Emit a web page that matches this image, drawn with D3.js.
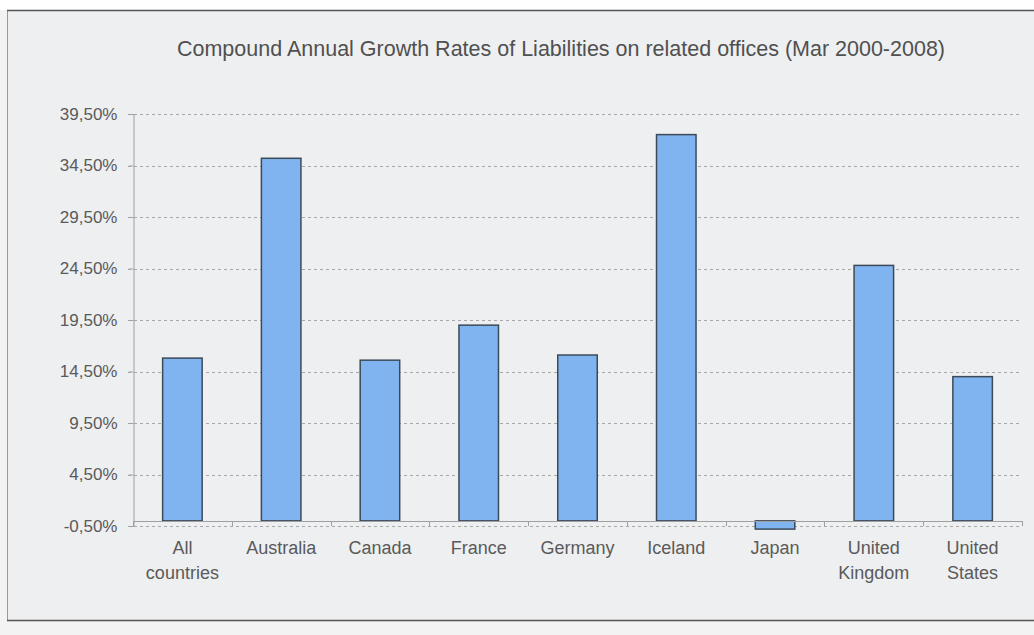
<!DOCTYPE html>
<html>
<head>
<meta charset="utf-8">
<script src="https://cdn.jsdelivr.net/npm/d3@7.9.0/dist/d3.min.js"></script>
<style>
  body { margin: 0; background: #fbfbfb; }
  svg { display: block; font-family: "Liberation Sans", Arial, sans-serif; }
</style>
</head>
<body>
<svg width="1034" height="635"></svg>
<script>
// data
const countries = ['All countries', 'Australia', 'Canada', 'France', 'Germany', 'Iceland', 'Japan', 'United Kingdom', 'United States'];
const growth = [15.8, 35.2, 15.6, 19.0, 16.1, 37.5, -0.8, 24.8, 14.0];
const yTicks = [-0.5, 4.5, 9.5, 14.5, 19.5, 24.5, 29.5, 34.5, 39.5];

const svg = d3.select('svg');

// frame
svg.append('rect')
    .attr('x', 0).attr('y', 0).attr('width', 1034).attr('height', 635)
    .attr('fill', '#f3f3f3');
svg.append('rect')
    .attr('x', 0).attr('y', 0).attr('width', 1034).attr('height', 10)
    .attr('fill', '#ffffff');
svg.append('rect')
    .attr('x', 7.5).attr('y', 10.5).attr('width', 1040).attr('height', 610)
    .attr('fill', '#eeeff1')
    .attr('stroke', '#9a9a9a');
svg.append('line')
    .attr('x1', 7).attr('x2', 1034).attr('y1', 10.5).attr('y2', 10.5)
    .attr('stroke', '#555').attr('stroke-width', 1.5);
svg.append('line')
    .attr('x1', 7).attr('x2', 1034).attr('y1', 620.5).attr('y2', 620.5)
    .attr('stroke', '#555').attr('stroke-width', 1.5);

const plotLeft = 133, plotRight = 1022, plotTop = 114, plotBottom = 526;

const x = d3.scaleBand().domain(countries).range([plotLeft, plotRight]).paddingInner(0.6).paddingOuter(0.3);
const y = d3.scaleLinear().domain([-0.5, 39.5]).range([plotBottom, plotTop]);

// title
svg.append('text')
    .attr('x', 561).attr('y', 56)
    .attr('text-anchor', 'middle')
    .attr('font-size', 21.5)
    .attr('fill', '#505050')
    .text('Compound Annual Growth Rates of Liabilities on related offices (Mar 2000-2008)');

// gridlines
svg.append('g').selectAll('line').data(yTicks).join('line')
    .attr('x1', plotLeft - 5).attr('x2', plotRight)
    .attr('y1', d => Math.round(y(d)) + 0.5).attr('y2', d => Math.round(y(d)) + 0.5)
    .attr('stroke', '#a8a8a8')
    .attr('stroke-dasharray', '3,3');

// y axis, comma decimals and a plain hyphen for negatives
const yAxis = d3.axisLeft(y).tickValues(yTicks).tickSize(5)
    .tickFormat(d => d.toFixed(2).replace('.', ',') + '%');
svg.append('g')
    .attr('transform', `translate(${plotLeft + 0.5},0)`)
    .call(yAxis)
    .call(g => g.select('.domain').attr('stroke', '#a0a0a0'))
    .call(g => g.selectAll('.tick line').attr('stroke', '#a0a0a0'))
    .call(g => g.selectAll('.tick text')
        .attr('font-size', 17).attr('fill', '#5a5a5a').attr('x', -16)
        .attr('font-family', '"Liberation Sans", Arial, sans-serif'));

// bars
svg.append('g').selectAll('rect').data(growth).join('rect')
    .attr('x', (d, i) => x(countries[i]))
    .attr('width', x.bandwidth())
    .attr('y', d => y(Math.max(0, d)))
    .attr('height', d => Math.abs(y(d) - y(0)))
    .attr('fill', '#80b4f0')
    .attr('stroke', '#3c4a58')
    .attr('stroke-width', 1.5);

// category axis at zero
const bounds = d3.range(countries.length + 1).map(i => plotLeft + i * (plotRight - plotLeft) / countries.length);
svg.append('line')
    .attr('x1', plotLeft).attr('x2', plotRight)
    .attr('y1', Math.round(y(0)) + 0.5).attr('y2', Math.round(y(0)) + 0.5)
    .attr('stroke', '#a0a0a0');
svg.append('g').selectAll('line').data(bounds).join('line')
    .attr('x1', d => Math.round(d) + 0.5).attr('x2', d => Math.round(d) + 0.5)
    .attr('y1', Math.round(y(0))).attr('y2', Math.round(y(0)) + 5)
    .attr('stroke', '#a0a0a0');

// category labels
const labels = svg.append('g').selectAll('text').data(countries).join('text')
    .attr('text-anchor', 'middle')
    .attr('font-size', 18)
    .attr('fill', '#5a5a5a')
    .attr('transform', d => `translate(${x(d) + x.bandwidth() / 2},554)`);
labels.each(function (d) {
    const words = d.split(' ');
    const t = d3.select(this);
    words.forEach((w, k) => {
        t.append('tspan').attr('x', 0).attr('dy', k === 0 ? 0 : 25).text(w);
    });
});
</script>
</body>
</html>
